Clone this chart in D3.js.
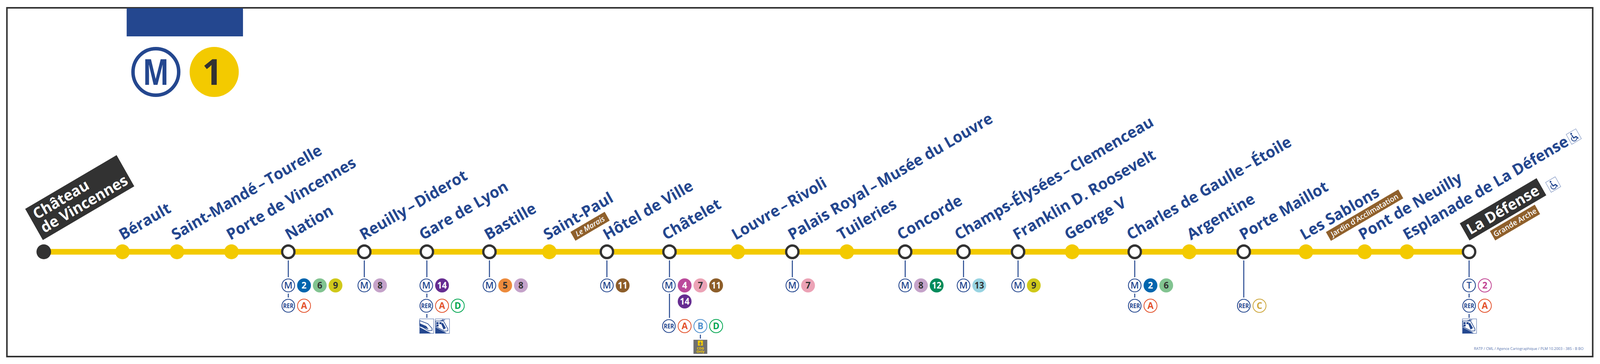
<!DOCTYPE html>
<html><head><meta charset="utf-8">
<script src="https://cdn.jsdelivr.net/npm/d3@7"></script>
<style>html,body{margin:0;padding:0;background:#fff;width:100%;height:100%;overflow:hidden}svg{display:block;width:100vw;height:100vh}text{font-family:"Open Sans",sans-serif}</style>
</head><body><div id="chart"></div>
<script>
// ---- data ----
const stationNames = ["Château de Vincennes","Bérault","Saint-Mandé – Tourelle","Porte de Vincennes","Nation","Reuilly – Diderot","Gare de Lyon","Bastille","Saint-Paul","Hôtel de Ville","Châtelet","Louvre – Rivoli","Palais Royal – Musée du Louvre","Tuileries","Concorde","Champs-Élysées – Clemenceau","Franklin D. Roosevelt","George V","Charles de Gaulle – Étoile","Argentine","Porte Maillot","Les Sablons","Pont de Neuilly","Esplanade de La Défense","La Défense"];
// distance along the line, in map units from the eastern terminus
const stationDistance = [0,205,347,489,637,835,998,1161,1317,1467,1630,1808,1950,2092,2244,2396,2538,2679,2842,2984,3126,3288,3441,3551,3713];
// 0 = terminus, 1 = plain stop, 2 = interchange
const stationKind = [0,1,1,1,2,2,2,2,1,2,2,1,2,1,2,2,2,1,2,1,2,1,1,1,2];
const metroLines = {"Nation":["2","6","9"],"Reuilly – Diderot":["8"],"Gare de Lyon":["14"],"Bastille":["5","8"],"Hôtel de Ville":["11"],"Châtelet":["4","7","11"],"Palais Royal – Musée du Louvre":["7"],"Concorde":["8","12"],"Champs-Élysées – Clemenceau":["13"],"Franklin D. Roosevelt":["9"],"Charles de Gaulle – Étoile":["2","6"]};
const metroLinesSecondRow = {"Châtelet":["14"]};
const rerLines = {"Nation":["A"],"Gare de Lyon":["A","D"],"Châtelet":["A","B","D"],"Charles de Gaulle – Étoile":["A"],"Porte Maillot":["C"],"La Défense":["A"]};
const tramLines = {"La Défense":["2"]};
const trainIcons = {"Gare de Lyon":["tgv","ter"],"La Défense":["ter"]};
const districtNames = {"Saint-Paul":"Le Marais","Les Sablons":"Jardin d'Acclimatation","La Défense":"Grande Arche"};
const accessibleStations = ["Esplanade de La Défense","La Défense"];
const creditLine = "RATP / CML / Agence Cartographique / PLM 10.2003 - 385 - B BO";

// ---- styling ----
const W=4168,H=931;
const BLUE="#24478f",YEL="#f3ca00",DARK="#323232",BROWN="#8f602c";
const lineColors={"2":"#0065ae","4":"#bb4a9b","5":"#ed8b3c","6":"#82c491","7":"#eca3b6","8":"#c5a3ca","9":"#d0c91a","11":"#8d5e2a","12":"#008b5b","13":"#98d4e2","14":"#662d91"};
const lineInk={"2":"#fff","4":"#fff","5":DARK,"6":DARK,"7":DARK,"8":DARK,"9":DARK,"11":"#fff","12":"#fff","13":DARK,"14":"#fff"};
const rerColors={A:"#e3512b",B:"#5291ce",C:"#cda63a",D:"#00a651"};
const labelDx={"Bérault":1,"Saint-Mandé – Tourelle":-4,"Porte de Vincennes":-3,"Nation":2,"Reuilly – Diderot":-2,"Gare de Lyon":-10,"Bastille":-3,"Saint-Paul":-5,"Hôtel de Ville":0,"Châtelet":-9,"Louvre – Rivoli":-6,"Palais Royal – Musée du Louvre":-1,"Tuileries":-15,"Concorde":-11,"Champs-Élysées – Clemenceau":-13,"Franklin D. Roosevelt":-3,"George V":-10,"Charles de Gaulle – Étoile":-11,"Argentine":4,"Porte Maillot":-1,"Les Sablons":-5,"Pont de Neuilly":-6,"Esplanade de La Défense":0};

const x=d3.scaleLinear().domain([0,3713]).range([114,3827]);
const posOf=n=>x(stationDistance[stationNames.indexOf(n)]);
const LINE_Y=644,LABEL_Y=615,ANGLE=-30;

const svg=d3.select("#chart").append("svg").attr("viewBox",`0 0 ${W} ${H}`).attr("preserveAspectRatio","none");
svg.append("rect").attr("width",W).attr("height",H).attr("fill","#fff");
svg.append("rect").attr("x",18).attr("y",20).attr("width",4131).attr("height",892).attr("fill","none").attr("stroke",DARK).attr("stroke-width",4);

// header
svg.append("rect").attr("x",330).attr("y",21).attr("width",303).attr("height",72).attr("fill",BLUE);
svg.append("circle").attr("cx",406).attr("cy",184).attr("r",59.5).attr("fill","#fff").attr("stroke",BLUE).attr("stroke-width",9);
svg.append("text").attr("x",406).attr("y",217).attr("text-anchor","middle").attr("font-size",92).attr("font-weight",700).attr("fill",BLUE).attr("textLength",68).attr("lengthAdjust","spacingAndGlyphs").text("M");
svg.append("circle").attr("cx",558).attr("cy",184).attr("r",64).attr("fill",YEL);
svg.append("text").attr("x",553).attr("y",217).attr("text-anchor","middle").attr("font-size",92).attr("font-weight",700).attr("fill",DARK).text("1");

// line
svg.append("line").attr("x1",x(0)).attr("x2",x(3713)).attr("y1",LINE_Y).attr("y2",LINE_Y).attr("stroke",YEL).attr("stroke-width",14.5);

// connector stems
const stem=(xx,y1,y2)=>svg.append("line").attr("x1",xx).attr("x2",xx).attr("y1",y1).attr("y2",y2).attr("stroke",BLUE).attr("stroke-width",2.6);

// stations
const sd=stationNames.map((n,i)=>({n,i,k:stationKind[i],x:x(stationDistance[i])}));
svg.append("g").selectAll("circle").data(sd).join("circle")
 .attr("cx",d=>d.x).attr("cy",LINE_Y)
 .attr("r",d=>d.k===2?16:19)
 .attr("fill",d=>d.k===0?DARK:d.k===1?YEL:"#fff")
 .attr("stroke",d=>d.k===2?DARK:"none").attr("stroke-width",6);

// labels: the spaces round the dash are set narrow, as on the map
svg.append("g").selectAll("text").data(sd.filter(d=>labelDx[d.n]!==undefined)).join("text")
 .attr("transform",d=>`translate(${d.x+labelDx[d.n]},${LABEL_Y}) rotate(${ANGLE})`)
 .attr("font-size",39.8).attr("font-weight",700).attr("fill",BLUE)
 .each(function(d){
   const parts=d.n.split(" – "), t=d3.select(this);
   if(parts.length===1){t.text(d.n);return;}
   t.append("tspan").text(parts[0]);
   t.append("tspan").style("word-spacing","-5px").text(" – ");
   t.append("tspan").text(parts[1]);
 });

function tiltedBox(cx,cy,w,h,fill){
  const g=svg.append("g").attr("transform",`translate(${cx},${cy}) rotate(${ANGLE})`);
  g.append("rect").attr("x",0).attr("y",-h).attr("width",w).attr("height",h).attr("fill",fill);
  return g;
}
// terminus boxes
const chateau=tiltedBox(111.6,614,275,92,DARK);
const [l1,l2]=["Château","de Vincennes"];
chateau.append("text").attr("x",12).attr("y",-53).attr("font-size",38.6).attr("font-weight",700).attr("fill","#fff").text(l1);
chateau.append("text").attr("x",12).attr("y",-13).attr("font-size",38.6).attr("font-weight",700).attr("fill","#fff").text(l2);
const ld=tiltedBox(3828,615,231,50.5,DARK);
ld.append("text").attr("x",9).attr("y",-11).attr("font-size",38.5).attr("font-weight",700).attr("fill","#fff").text("La Défense");

// district tags
const tagPos={"Saint-Paul":[1499,615.7,103,26,19,"italic"],"Les Sablons":[3467,616,217.6,26,18.8,"normal"],"La Défense":[3895,615,135,27.7,19,"normal"]};
Object.entries(districtNames).forEach(([st,name])=>{
  const [cx,cy,w,h,fs,st2]=tagPos[st];
  tiltedBox(cx,cy,w,h,BROWN).append("text").attr("x",w/2).attr("y",-h/2+fs*0.35).attr("text-anchor","middle")
    .attr("font-size",fs).attr("font-weight",600).attr("font-style",st2).attr("fill","#fff").text(name);
});

// wheelchair icon
function wheelchair(cx,cy){
  const g=svg.append("g").attr("transform",`translate(${cx},${cy}) rotate(${ANGLE})`);
  g.append("rect").attr("x",-14.5).attr("y",-14.5).attr("width",29).attr("height",29).attr("fill","#fff").attr("stroke","#7f95c2").attr("stroke-width",1.2);
  g.append("circle").attr("cx",-2.5).attr("cy",-9.5).attr("r",2.4).attr("fill",BLUE);
  g.append("path").attr("d","M-3-6L-2 3L5 3L8 10").attr("fill","none").attr("stroke",BLUE).attr("stroke-width",3);
  g.append("path").attr("d","M-6-1A7 7 0 1 0 5 7").attr("fill","none").attr("stroke",BLUE).attr("stroke-width",2);
}
accessibleStations.forEach((s,i)=>wheelchair(i===0?4099.7:4046,i===0?349.3:472));

// badges
const R=17;
function pictogram(cx,cy,letter,small){
  svg.append("circle").attr("cx",cx).attr("cy",cy).attr("r",R-0.5).attr("fill","#fff").attr("stroke",BLUE).attr("stroke-width",2.2);
  const t=svg.append("text").attr("x",cx).attr("y",cy+(small?5.8:8.5)).attr("text-anchor","middle").attr("font-weight",600).attr("fill",BLUE).text(letter);
  if(small) t.attr("font-size",16.5).attr("textLength",27).attr("lengthAdjust","spacingAndGlyphs").attr("font-weight",700);
  else {t.attr("font-size",24); if(letter==="M") t.attr("textLength",22).attr("lengthAdjust","spacingAndGlyphs");}
}
function solidBadge(cx,cy,l){
  svg.append("circle").attr("cx",cx).attr("cy",cy).attr("r",18).attr("fill",lineColors[l]);
  const t=svg.append("text").attr("x",cx).attr("y",cy+8.3).attr("text-anchor","middle").attr("font-size",23).attr("font-weight",700).attr("fill",lineInk[l]).text(l);
  if(l.length>1) t.attr("textLength",25).attr("lengthAdjust","spacingAndGlyphs");
}
function ringBadge(cx,cy,l,col){
  svg.append("circle").attr("cx",cx).attr("cy",cy).attr("r",17).attr("fill","#fff").attr("stroke",col).attr("stroke-width",2);
  svg.append("text").attr("x",cx).attr("y",cy+8.3).attr("text-anchor","middle").attr("font-size",23).attr("font-weight",700).attr("fill",col).text(l);
}
const STEP=41;
const rowMetro=730,rowMetro2=771,rowRer=782,rowRerLow=834,rowTrain=815;
const withStems=n=>{
  const sx=posOf(n);
  const hasM=metroLines[n]||tramLines[n];
  stem(sx,666,hasM||!rerLines[n]?709:761);
};
stationNames.forEach(n=>{
  const sx=posOf(n);
  if(metroLines[n]||rerLines[n]||tramLines[n]) withStems(n);
  const px=sx-(n==="Châtelet"||n==="Gare de Lyon"?1.5:0);
  if(metroLines[n]){
    pictogram(px,rowMetro,"M");
    metroLines[n].forEach((l,i)=>solidBadge(px+STEP*(i+1),rowMetro,l));
    (metroLinesSecondRow[n]||[]).forEach((l,i)=>solidBadge(px+STEP*(i+1),rowMetro2,l));
  }
  if(tramLines[n]){
    pictogram(px,rowMetro,"T");
    tramLines[n].forEach((l,i)=>ringBadge(px+STEP*(i+1),rowMetro,l,"#c04191"));
  }
  if(rerLines[n]){
    const ry=metroLinesSecondRow[n]?rowRerLow:rowRer;
    if(metroLines[n]||tramLines[n]) stem(sx,751,ry===rowRerLow?813:761);
    pictogram(px,ry,"RER",true);
    rerLines[n].forEach((l,i)=>ringBadge(px+STEP*(i+1),ry,l,rerColors[l]));
  }
  if(trainIcons[n]){
    stem(sx,803,813);
    trainIcons[n].forEach((kind,i)=>trainIcon(px-18+i*41,rowTrain,kind));
  }
});
function trainIcon(x0,y0,kind){
  const g=svg.append("g").attr("transform",`translate(${x0},${y0})`);
  g.append("rect").attr("x",.6).attr("y",.6).attr("width",36.8).attr("height",37).attr("fill","#fff").attr("stroke","#5a76b0").attr("stroke-width",1.2);
  g.append("path").attr("d","M1 22L30 37L1 38Z").attr("fill",BLUE);
  if(kind==="tgv"){
    g.append("path").attr("d","M1 5L22 13L33 25L33 30L24 31L1 17Z").attr("fill","#fff").attr("stroke",BLUE).attr("stroke-width",1.6);
    g.append("path").attr("d","M1 12L18 19L24 27L1 20Z").attr("fill",BLUE);
  } else {
    g.append("path").attr("d","M1 6L22 6L33 26L33 31L24 32L1 20Z").attr("fill","#fff").attr("stroke",BLUE).attr("stroke-width",1.6);
    g.append("path").attr("d","M3 9H9V14H3ZM11 9H17V14H11ZM3 15H9V20H3ZM20 10L28 24L22 28L16 14Z").attr("fill",BLUE);
    g.append("path").attr("d","M14 5L26 3M20 1L20 6").attr("stroke",BLUE).attr("stroke-width",1.4).attr("fill","none");
  }
}
// CDG shuttle box below RER B
const bx=posOf("Châtelet")-1.5+STEP*2;
stem(bx,856,866);
svg.append("rect").attr("x",bx-18).attr("y",869).attr("width",36).attr("height",36).attr("fill","#6f6f6f");
svg.append("rect").attr("x",bx-6.5).attr("y",871).attr("width",13).attr("height",13).attr("fill","#f3ca00");
svg.append("path").attr("d",`M${bx} 872L${bx+1.5} 877L${bx+5} 880L${bx+1} 879L${bx+2} 883L${bx-2} 883L${bx-1} 879L${bx-5} 880L${bx-1.5} 877Z`).attr("fill","#6f6f6f");
svg.append("text").attr("x",bx).attr("y",894).attr("text-anchor","middle").attr("font-size",9).attr("font-weight",700).attr("fill","#f3ca00").text("CDG");
svg.append("text").attr("x",bx).attr("y",902.5).attr("text-anchor","middle").attr("font-size",9).attr("font-weight",700).attr("fill","#f3ca00").text("Only");

// credit
svg.append("text").attr("x",4125).attr("y",895).attr("text-anchor","end").attr("font-size",9.6).attr("fill","#5a76b0").text(creditLine);
</script></body></html>
